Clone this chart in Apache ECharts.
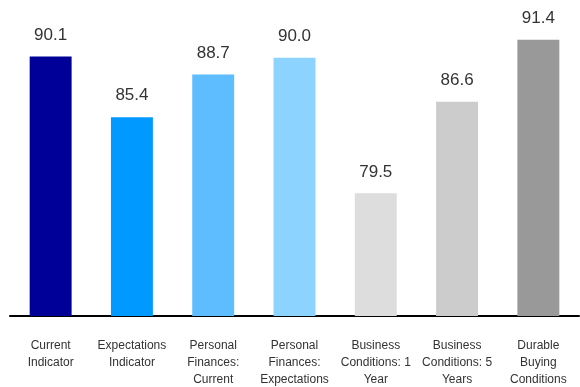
<!DOCTYPE html>
<html>
<head>
<meta charset="utf-8">
<script src="https://cdn.jsdelivr.net/npm/echarts@6/dist/echarts.min.js"></script>
<style>
  html, body { margin: 0; padding: 0; background: #fff; }
  #chart { width: 580px; height: 387px; }
</style>
</head>
<body>
<div id="chart"></div>
<script>
// Survey components, one bar each
const categories = [
  'Current\nIndicator',
  'Expectations\nIndicator',
  'Personal\nFinances:\nCurrent',
  'Personal\nFinances:\nExpectations',
  'Business\nConditions: 1\nYear',
  'Business\nConditions: 5\nYears',
  'Durable\nBuying\nConditions'
];
const values = [90.1, 85.4, 88.7, 90.0, 79.5, 86.6, 91.4];
const barColors = ['#000099', '#0099ff', '#5ebdff', '#8dd3ff', '#dddddd', '#cccccc', '#999999'];

const chart = echarts.init(document.getElementById('chart'));
chart.setOption({
  animation: false,
  grid: {
    left: 10, right: 1, top: 32, bottom: 71,
    containLabel: false,
    outerBoundsMode: 'none'
  },
  xAxis: {
    type: 'category',
    data: categories,
    axisLine: { show: true, lineStyle: { color: '#000', width: 2 } },
    axisTick: { show: false },
    axisLabel: {
      interval: 0,
      margin: 21,
      color: '#333',
      fontFamily: 'Liberation Sans',
      fontSize: 12,
      lineHeight: 17
    }
  },
  yAxis: {
    type: 'value',
    min: 70,
    max: 92,
    show: false,
    splitLine: { show: false }
  },
  series: [{
    type: 'bar',
    barWidth: '51.6%',
    data: values.map((v, i) => ({ value: v, itemStyle: { color: barColors[i] } })),
    label: {
      show: true,
      position: 'top',
      distance: 13,
      color: '#333',
      fontFamily: 'Liberation Sans',
      fontSize: 17,
      formatter: p => p.value.toFixed(1)
    }
  }]
});
</script>
</body>
</html>
